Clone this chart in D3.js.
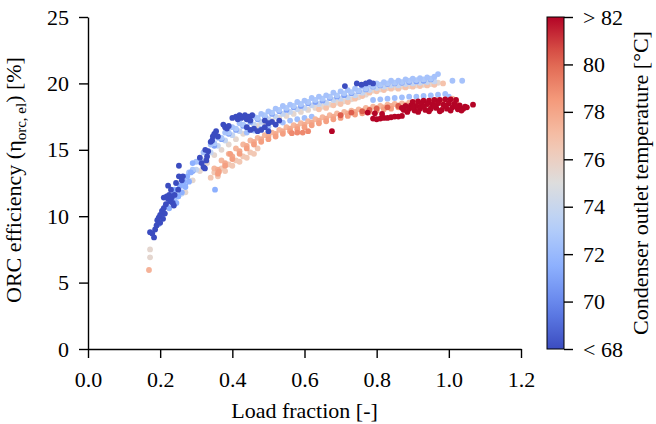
<!DOCTYPE html>
<html>
<head>
<meta charset="utf-8">
<script src="https://cdn.jsdelivr.net/npm/d3@7"></script>
<style>
  body { margin: 0; background: #fff; }
  svg { display: block; font-family: "Liberation Serif", "Times New Roman", serif; }
</style>
</head>
<body>
<svg id="chart" width="656" height="424"></svg>
<script>
// [load fraction, efficiency %], one list per colour group
var upperTop = [[0.24,11.3],[0.26,12.3],[0.28,13.3],[0.30,14.1],[0.32,14.8],[0.34,15.4],[0.36,15.9],[0.38,16.3],[0.40,16.7],[0.42,17.0],[0.44,17.3],[0.46,17.5],[0.48,17.7],[0.50,17.9],[0.52,18.1],[0.54,18.3],[0.56,18.4],[0.58,18.6],[0.60,18.7],[0.62,18.9],[0.64,19.0],[0.66,19.1],[0.68,19.3],[0.70,19.4],[0.72,19.5],[0.74,19.6],[0.76,19.75],[0.78,19.9],[0.80,20.0],[0.82,20.1],[0.84,20.2],[0.86,20.2],[0.88,20.3],[0.90,20.35],[0.92,20.4],[0.94,20.45],[0.96,20.5],[0.97,20.7],[1.01,20.2],[1.037,20.2]];
var upperMid = [[0.25,11.6],[0.27,12.6],[0.29,13.5],[0.31,14.3],[0.33,14.9],[0.35,15.5],[0.37,15.9],[0.39,16.3],[0.41,16.6],[0.43,16.9],[0.45,17.2],[0.47,17.4],[0.49,17.6],[0.51,17.8],[0.53,18.0],[0.55,18.15],[0.57,18.3],[0.59,18.45],[0.61,18.6],[0.63,18.75],[0.65,18.85],[0.67,19.0],[0.69,19.1],[0.71,19.25],[0.73,19.35],[0.75,19.45],[0.77,19.6],[0.79,19.8],[0.81,19.9],[0.83,20.0],[0.85,20.05],[0.87,20.1],[0.89,20.2],[0.91,20.25],[0.93,20.3],[0.95,20.35]];
var upperBlue = [[0.25,11.5],[0.27,12.5],[0.29,13.4],[0.31,14.1],[0.33,14.8],[0.35,15.3],[0.37,15.8],[0.39,16.2],[0.41,16.5],[0.43,16.8],[0.45,17.1],[0.47,17.3],[0.49,17.5],[0.51,17.7],[0.53,17.9],[0.55,18.0],[0.57,18.2],[0.59,18.3],[0.61,18.5],[0.63,18.6],[0.65,18.7],[0.67,18.9],[0.69,19.0],[0.71,19.1],[0.73,19.25],[0.75,19.4],[0.77,19.55],[0.79,19.75],[0.81,19.85],[0.83,19.95],[0.85,20.0],[0.87,20.05],[0.89,20.1],[0.91,20.15],[0.93,20.2],[0.95,20.3]];
var upperLight = [[0.26,11.7],[0.28,12.7],[0.30,13.5],[0.32,14.2],[0.34,14.8],[0.36,15.3],[0.38,15.7],[0.40,16.1],[0.42,16.4],[0.44,16.7],[0.46,16.9],[0.48,17.1],[0.50,17.3],[0.52,17.5],[0.54,17.7],[0.56,17.85],[0.58,18.05],[0.60,18.15],[0.62,18.35],[0.64,18.45],[0.66,18.55],[0.68,18.75],[0.70,18.85],[0.72,18.95],[0.74,19.1],[0.76,19.3],[0.78,19.5],[0.80,19.65],[0.82,19.75],[0.84,19.85],[0.86,19.85],[0.88,19.95],[0.90,20.0],[0.92,20.05],[0.94,20.1],[0.96,20.15]];
var upperGrey = [[0.27,11.8],[0.29,12.7],[0.31,13.4],[0.33,14.0],[0.35,14.6],[0.37,15.0],[0.39,15.4],[0.41,15.8],[0.43,16.2],[0.45,16.5],[0.47,16.8],[0.49,17.0],[0.51,17.2],[0.53,17.4],[0.55,17.55],[0.57,17.7],[0.59,17.85],[0.61,18.0],[0.63,18.15],[0.65,18.25],[0.67,18.4],[0.69,18.55],[0.71,18.65],[0.73,18.8],[0.75,18.95],[0.77,19.15],[0.79,19.45],[0.81,19.55],[0.83,19.65],[0.85,19.7],[0.87,19.75],[0.89,19.8],[0.91,19.85],[0.93,19.9],[0.95,19.95],[0.97,20.05]];
var upperPeach = [[0.64,18.05],[0.66,18.15],[0.68,18.35],[0.70,18.45],[0.72,18.6],[0.74,18.85],[0.76,19.05],[0.78,19.3],[0.80,19.4],[0.82,19.5],[0.84,19.6],[0.86,19.6],[0.88,19.7],[0.90,19.75],[0.92,19.8],[0.94,19.85],[0.96,19.9],[0.984,20.0]];
var midBlue = [[0.44,16.3],[0.46,16.45],[0.48,16.6],[0.50,16.75],[0.52,16.9],[0.54,17.05],[0.56,17.2],[0.58,17.3],[0.60,17.4],[0.62,17.5],[0.79,18.75],[0.81,18.8],[0.83,18.85],[0.85,18.9],[0.87,18.95],[0.89,19.0],[0.91,19.0],[0.93,19.05],[0.95,19.1],[0.97,19.15],[0.99,19.2],[1.0,19.0]];
var leftPeach = [[0.34,12.9],[0.35,13.3],[0.36,13.0],[0.37,13.6],[0.38,13.4],[0.39,13.9],[0.40,13.8],[0.41,14.2],[0.42,14.1],[0.43,14.5],[0.44,14.4],[0.45,14.8],[0.46,14.7],[0.47,15.1]];
var salmonLight = [[0.35,13.6],[0.37,14.2],[0.39,14.7],[0.41,15.1],[0.43,15.4],[0.45,15.7],[0.47,15.9],[0.49,16.1],[0.51,16.3],[0.53,16.5],[0.55,16.7],[0.57,16.85],[0.59,17.0],[0.61,17.15],[0.63,17.3],[0.65,17.45],[0.67,17.6],[0.69,17.75],[0.71,17.85],[0.73,17.95],[0.75,18.05],[0.77,18.15],[0.79,18.25],[0.81,18.3],[0.83,18.4],[0.85,18.45],[0.87,18.5],[0.89,18.55],[0.91,18.6],[0.93,18.65],[0.95,18.7],[0.97,18.75],[0.99,18.8],[1.01,18.85]];
var salmonMid = [[0.36,13.5],[0.38,14.0],[0.40,14.5],[0.42,14.9],[0.44,15.3],[0.46,15.6],[0.48,15.8],[0.50,16.0],[0.52,16.2],[0.54,16.4],[0.56,16.6],[0.58,16.75],[0.60,16.9],[0.62,17.05],[0.64,17.2],[0.66,17.35],[0.68,17.5],[0.70,17.6],[0.72,17.75],[0.74,17.85],[0.76,17.95],[0.78,18.05],[0.80,18.15],[0.82,18.2],[0.84,18.3],[0.86,18.35],[0.88,18.4],[0.90,18.45],[0.92,18.5],[0.94,18.55],[0.96,18.6],[0.98,18.65],[1.00,18.7]];
var salmon = [[0.36,13.2],[0.38,13.8],[0.40,14.3],[0.42,14.7],[0.44,15.1],[0.46,15.4],[0.48,15.6],[0.50,15.8],[0.52,16.0],[0.54,16.2],[0.56,16.4],[0.58,16.55],[0.60,16.7],[0.62,16.85],[0.64,17.0],[0.66,17.15],[0.68,17.3],[0.70,17.4],[0.72,17.55],[0.74,17.65],[0.76,17.75],[0.78,17.85],[0.80,17.95],[0.82,18.05],[0.84,18.1],[0.86,18.2],[0.88,18.25],[0.90,18.3],[0.92,18.35],[0.94,18.4],[0.96,18.45],[0.98,18.5],[1.00,18.55],[1.02,18.6],[0.363,13.35],[0.394,14.7]];
var salmonDeep = [[0.565,16.25],[0.58,16.3],[0.595,16.3],[0.61,16.4]];
var branchBlue = [[0.195,9.4],[0.205,10.0],[0.215,10.8],[0.225,10.6],[0.235,11.6],[0.24,12.0],[0.245,11.0],[0.25,11.5],[0.255,12.3],[0.26,11.8],[0.265,12.6],[0.27,12.2],[0.275,13.0],[0.28,12.6],[0.285,13.3],[0.29,14.0],[0.352,12.0]];
var darkBlue = [[0.172,8.8],[0.178,8.7],[0.183,8.4],[0.186,9.0],[0.19,9.3],[0.192,9.7],[0.196,9.9],[0.2,10.1],[0.2,9.5],[0.205,10.4],[0.208,9.8],[0.21,10.6],[0.213,10.2],[0.216,10.9],[0.21,11.4],[0.218,11.5],[0.222,11.3],[0.225,11.6],[0.228,11.1],[0.232,11.4],[0.235,11.0],[0.238,10.8],[0.24,11.6],[0.222,12.3],[0.23,12.0],[0.244,12.5],[0.25,12.0],[0.252,13.0],[0.26,12.7],[0.263,13.0],[0.252,13.8],
  [0.31,14.4],[0.315,14.0],[0.32,13.7],[0.324,13.6],[0.328,14.2],[0.33,14.5],[0.325,15.0],[0.333,14.9],[0.34,15.6],[0.344,15.7],[0.346,16.0],[0.35,16.2],[0.355,16.4],[0.36,16.0],[0.375,16.9],[0.38,16.7],[0.385,16.6],[0.39,16.8],[0.40,17.4],[0.41,17.5],[0.415,17.3],[0.42,17.6],[0.425,17.4],[0.43,17.5],[0.435,17.6],[0.44,17.3],[0.445,17.5],[0.455,17.6],[0.45,17.2],
  [0.44,16.7],[0.45,16.5],[0.46,16.6],[0.47,16.4],[0.48,16.5],[0.49,16.7],[0.50,16.4],[0.49,17.2],[0.50,17.0],[0.51,17.1],[0.52,16.9],[0.53,17.2],
  [0.712,19.8],[0.745,20.0],[0.77,20.0],[0.78,20.1],[0.79,20.0],[0.758,19.9]];
var orange = [[0.70,17.6],[0.73,17.8],[0.76,17.9],[0.78,18.0],[0.80,18.1],[0.83,18.2],[0.86,18.3]];
var darkRed = [[0.79,17.35],[0.80,17.3],[0.81,17.35],[0.82,17.4],[0.83,17.4],[0.84,17.45],[0.85,17.5],[0.86,17.5],[0.87,17.55],[0.775,17.8],[0.676,16.4],[0.795,17.75],[0.815,17.7],
  [0.90,18.6],[0.915,18.65],[0.93,18.7],[0.945,18.7],[0.96,18.75],[0.975,18.75],[0.99,18.8],[1.005,18.8],[1.02,18.75],
  [0.88,18.3],[0.895,18.35],[0.91,18.3],[0.925,18.4],[0.94,18.45],[0.955,18.4],[0.97,18.5],[0.985,18.4],[1.0,18.5],[1.015,18.45],[1.03,18.35],[1.045,18.25],
  [0.875,18.0],[0.89,18.1],[0.905,17.95],[0.92,18.1],[0.935,18.0],[0.95,18.1],[0.965,18.15],[0.98,18.0],[0.995,18.1],[1.01,18.2],[1.025,18.05],[1.04,18.1],
  [0.87,18.15],[0.9,18.2],[0.93,18.25],[0.96,18.3],[0.99,18.3],[1.02,18.3],[0.885,17.85],[0.915,17.85],[0.945,17.9],[0.975,17.9],[1.005,17.95],[1.035,17.95],[1.067,18.4],[1.05,18.2]];
var lowGrey = [[0.172,7.5],[0.172,6.9]];
var lowPeach = [[0.169,5.95]];

// condenser outlet temperature of each group, in drawing order
var groups = [upperGrey, upperPeach, upperLight, upperBlue, upperMid, upperTop, midBlue, leftPeach, salmonLight, salmonMid, salmon, salmonDeep, branchBlue, darkBlue, orange, darkRed, lowGrey, lowPeach];
var groupTemps = [75.5, 76.8, 73.8, 71, 72.8, 72.5, 72.3, 76.5, 77.3, 77.8, 78.3, 79, 71.5, 67, 80.3, 83.5, 75.5, 77.5];

var xTicks = [0, 0.2, 0.4, 0.6, 0.8, 1.0, 1.2];
var yTicks = [0, 5, 10, 15, 20, 25];
var cTicks = [68, 70, 72, 74, 76, 78, 80, 82];

var plot = {left: 88, right: 521, top: 17, bottom: 349};
var bar = {left: 547, right: 564};

var svg = d3.select("#chart");

var x = d3.scaleLinear().domain([0, 1.2]).range([plot.left, plot.right]);
var y = d3.scaleLinear().domain([0, 25]).range([plot.bottom, plot.top]);

// matplotlib coolwarm, sampled
var coolwarm = d3.piecewise(d3.interpolateRgb, ["#3b4cc0", "#6282ea", "#8db0fe", "#b8d0f9", "#dddddd", "#f5c4ad", "#f49a7b", "#de604d", "#b40426"]);
var color = d3.scaleSequential(coolwarm).domain([68, 82]).clamp(true);

var points = [];
groups.forEach(function(g, i) {
  g.forEach(function(p) { points.push({load: p[0], eff: p[1], temp: groupTemps[i]}); });
});

svg.append("g")
  .selectAll("circle")
  .data(points)
  .join("circle")
    .attr("cx", d => x(d.load))
    .attr("cy", d => y(d.eff))
    .attr("r", 2.9)
    .attr("fill", d => color(d.temp));

function styleAxis(g) {
  g.attr("font-size", 22).attr("font-family", null);
  g.selectAll("path, line").attr("stroke", "#000").attr("stroke-width", 1.4);
  g.selectAll("text").attr("fill", "#000");
}

svg.append("g")
    .attr("transform", `translate(0,${plot.bottom})`)
    .call(d3.axisBottom(x).tickValues(xTicks).tickFormat(d3.format(".1f")).tickSize(9).tickSizeOuter(0).tickPadding(13))
    .call(styleAxis);

svg.append("g")
    .attr("transform", `translate(${plot.left},0)`)
    .call(d3.axisLeft(y).tickValues(yTicks).tickSize(9).tickSizeOuter(0).tickPadding(10))
    .call(styleAxis);

svg.append("text")
    .attr("x", (plot.left + plot.right) / 2)
    .attr("y", 418)
    .attr("text-anchor", "middle")
    .attr("font-size", 22)
    .text("Load fraction [-]");

var ylab = svg.append("text")
    .attr("transform", "translate(21,180) rotate(-90)")
    .attr("text-anchor", "middle")
    .attr("font-size", 22);
ylab.append("tspan").text("ORC efficiency (η");
ylab.append("tspan").attr("font-size", 15).attr("dy", 5).text("orc, el");
ylab.append("tspan").attr("dy", -5).text(") [%]");

// colour bar
var c = d3.scaleLinear().domain([68, 82]).range([plot.bottom, plot.top]);

var grad = svg.append("defs").append("linearGradient")
    .attr("id", "cbar")
    .attr("x1", 0).attr("y1", 1).attr("x2", 0).attr("y2", 0);
grad.selectAll("stop")
  .data(d3.range(0, 1.0001, 0.05))
  .join("stop")
    .attr("offset", d => d)
    .attr("stop-color", d => coolwarm(d));

svg.append("rect")
    .attr("x", bar.left)
    .attr("y", plot.top)
    .attr("width", bar.right - bar.left)
    .attr("height", plot.bottom - plot.top)
    .attr("fill", "url(#cbar)")
    .attr("stroke", "#000")
    .attr("stroke-width", 1);

svg.append("g")
    .attr("transform", `translate(${bar.right},0)`)
    .call(d3.axisRight(c).tickValues(cTicks).tickSize(9).tickPadding(10)
      .tickFormat(d => d === 68 ? "< 68" : d === 82 ? "> 82" : d))
    .call(styleAxis)
    .call(g => g.select(".domain").remove());

svg.append("text")
    .attr("transform", `translate(648,${(plot.top + plot.bottom) / 2}) rotate(-90)`)
    .attr("text-anchor", "middle")
    .attr("font-size", 22)
    .text("Condenser outlet temperature [°C]");
</script>
</body>
</html>
